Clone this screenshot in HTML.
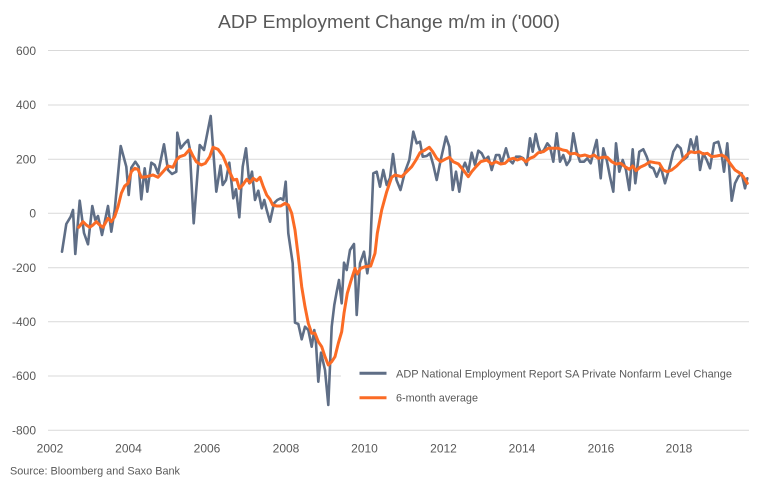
<!DOCTYPE html>
<html><head><meta charset="utf-8"><style>
html,body{margin:0;padding:0;background:#fff;}
svg{display:block;}
text{font-family:"Liberation Sans",sans-serif;fill:#595959;}
</style></head><body>
<svg width="769" height="487" viewBox="0 0 769 487" xmlns="http://www.w3.org/2000/svg">
<rect width="769" height="487" fill="#fff"/>
<text x="389" y="28" font-size="18" text-anchor="middle" textLength="342" lengthAdjust="spacingAndGlyphs">ADP Employment Change m/m in ('000)</text>
<g stroke="#d9d9d9" stroke-width="1">
<line x1="48" y1="50.5" x2="749" y2="50.5"/>
<line x1="48" y1="105" x2="749" y2="105"/>
<line x1="48" y1="159.3" x2="749" y2="159.3"/>
<line x1="48" y1="213.3" x2="749" y2="213.3"/>
<line x1="48" y1="267.7" x2="749" y2="267.7"/>
<line x1="48" y1="321.7" x2="749" y2="321.7"/>
<line x1="48" y1="376" x2="749" y2="376"/>
<line x1="48" y1="430.3" x2="749" y2="430.3"/>
</g>
<rect x="341" y="360" width="410" height="50" fill="#fff"/>
<g font-size="12" text-anchor="end">
<text x="36" y="55">600</text>
<text x="36" y="109">400</text>
<text x="36" y="163.5">200</text>
<text x="36" y="217.5">0</text>
<text x="36" y="272">-200</text>
<text x="36" y="326">-400</text>
<text x="36" y="380">-600</text>
<text x="36" y="434.5">-800</text>
</g>
<g font-size="12" text-anchor="middle">
<text x="50" y="452.5">2002</text>
<text x="128.5" y="452.5">2004</text>
<text x="207" y="452.5">2006</text>
<text x="286" y="452.5">2008</text>
<text x="364.5" y="452.5">2010</text>
<text x="443.5" y="452.5">2012</text>
<text x="522" y="452.5">2014</text>
<text x="601" y="452.5">2016</text>
<text x="679" y="452.5">2018</text>
</g>
<text x="10" y="474.5" font-size="11" textLength="170" lengthAdjust="spacingAndGlyphs">Source: Bloomberg and Saxo Bank</text>
<polyline fill="none" stroke="#5f6e86" stroke-width="2.6" stroke-linejoin="round" stroke-linecap="round" points="62,251.7 66.3,224 70.7,216.7 73,210 75.3,254 79.7,200.7 84,233 88,244.3 92.3,206 95.3,220 98,216 102,235 108,206 111.3,231.7 114.7,210 120.7,146 126.3,166.7 128.7,195 131.3,167.7 135.3,161.7 138.7,166.7 141.3,199.3 144.7,168.3 147.3,191.7 151.3,162.7 154.7,165 158,173.3 164,144.3 168,170 172,174 176.3,171.7 177.3,132.7 180.7,148.3 184.7,143.3 188,140 189.7,148.3 193.7,223.3 199.7,145 204,150 210.7,116 216.3,191.7 220.5,165.5 222.7,185 226,180 229.3,162.7 233.3,198.3 236,189.3 239.3,217.3 242.7,166.7 246,148.3 249.3,183.3 252,171.7 255,200 258.3,190.7 261.7,208.3 264.3,200 266.7,210 270,221.7 274,203.3 277.3,200 280.7,198.3 283.3,200 285.7,181.7 288.3,233.3 292.7,263.3 295,322.7 298.3,324 301.7,339.3 305,326.7 308.3,330 311.7,346.7 314.3,330 316,343.3 318.3,381.7 321,352.7 325,370 328.3,405 331.7,326.7 334.3,305 336.7,291.7 339,280 341.7,303.3 344,262.7 346.7,270 350,250 354,244 356.7,315 360,263.3 364,251.7 367.3,273.3 370,255 373.3,173.3 376.7,171.7 380,186.7 383.3,170 386.7,185 390,178 393,154 396.5,180 400.5,190 405,171.7 409.3,160 413.3,131.7 416.7,143.3 420,141.7 422.7,156.7 426.7,156 430,153.3 433.3,165 436.7,180 440.7,160 446,136.7 449.3,146.7 452.7,190 456,171.7 459.3,191.7 462.7,168.3 465,162.7 468.3,171.7 471.7,152.7 475,165 478.3,150.7 481.7,153.3 485,160 488.3,156.7 491.7,170 496,155 499.3,155 501.7,163.3 506,148.3 509.3,160 512.7,163.3 516,156.7 520,156.7 523.3,158.3 526.7,165 530,138.3 532.7,151.7 535.7,134 538.3,146 540.7,152.7 544,150 547.3,143.3 550,146.7 553.3,161.7 556.7,133.3 560,161.7 563.3,155 566.7,165 570,160 573.3,133.3 576.7,151.7 580,161.7 584,161.7 587.3,158.3 590.7,163.3 594,150 596.7,140 600.7,178.3 603.3,148.3 606.7,160 610,176.7 613.3,191.7 616,143.3 619.3,171.7 622.7,160 626,170 629.3,190 632.7,149.3 635.3,183.3 639.3,151.7 643.3,149.3 646.7,156.7 650,166.7 653.3,168.3 656.7,176.7 660.7,166.7 665,183.3 669.3,168.3 673.3,151.7 677.3,145 680.7,148.3 683.3,160 687.3,156.7 690.7,139.3 694,150 696.7,136.7 700,170 703.3,153.3 706.7,160 710,168.3 714,143.3 718.3,141.7 721.7,155 724,171.7 727.3,143.3 731.7,200.7 735,183.3 738.3,176.7 741.7,173.3 745,188.3 747.3,178.3"/>
<polyline fill="none" stroke="#fb6b25" stroke-width="3" stroke-linejoin="round" stroke-linecap="round" points="78.7,227.3 83,221.7 86.3,225 89.7,227.3 93,225 96.3,221.7 99.7,225 103,227.3 108,218.3 111.3,221.7 114.7,216.7 118,206.7 121.3,193.3 124.7,186 128,183.3 131.3,171.7 134.7,168.3 138,169.3 141.3,177.3 146.3,176.7 153,175 158,177.3 163,171.7 168,166 173,167.3 176.3,160 179.7,156.7 184.7,155 189.7,149.3 193,156 196.3,161.7 201.3,165 205.3,163.3 209.7,156.7 213,147.3 218,149.3 223,156 228,168 233.3,180 236.7,179.3 239.3,188.3 242.7,185 246.7,179.3 250,182.7 253.3,178.3 256.7,180.7 260,177.3 263.3,186.7 266.7,195 270,199.3 272.7,205 276.7,206 280.7,206 285,203.3 288.3,205 291.7,213.3 295,230 298.3,256.7 301.7,286.7 305,306.7 308.3,323.3 311.7,333.3 315,333.3 318.3,341.7 321.7,346.7 325,356.7 328.3,365 331.7,361.7 335,356.7 338.3,343.3 341.7,331.7 344,313.3 347.3,293.3 350.7,281.7 355,268.3 357.3,274 360.7,268.3 365,266.7 370.7,266 375,253.3 377.3,233.3 381.7,210 386.7,191.7 391.7,177.3 395,175 401.7,176.7 406.7,171.7 411.7,166.7 416,160 420,152.7 425,150 429.3,147.3 432.7,151.7 436.7,158.3 440.7,161.7 445,159.3 449.3,157.3 453.3,161.7 458.3,164 463.3,170 468.3,176.7 471.7,171.7 476,166.7 480.7,161.7 486.7,160 491.7,164 496,161.7 500.7,164 505,163.3 509.3,159.3 513.3,158.3 517.3,160 521.7,158.3 526,161.7 530,158.3 534,156.7 538.3,152.7 543.3,151.7 548.3,148.3 553.3,148.3 558.3,148.3 562.7,150 566.7,150.7 570,154 575,153.3 580,156 585,155 590,156.7 594,155 598.3,158.3 602.7,157.3 607.3,157.3 611.7,161.7 616,164 620.7,163.3 625,166.7 629.3,169.3 632.7,166 636,170.7 640,167.3 645,165 650,161.7 655,162.7 659.3,163.3 663.3,170 667.3,171.7 671.7,170 676.7,166 681.7,160.7 686.7,155 690.7,151.7 695,152.7 699.3,151.7 703.3,154 707.3,153.3 711.7,156.7 716.7,156 721.7,155 726,157.3 730,163.3 735,170 739.3,172.7 743.3,176.7 747.3,183.3"/>
<line x1="359.5" y1="373.3" x2="386.5" y2="373.3" stroke="#5f6e86" stroke-width="3"/>
<line x1="359.5" y1="397.7" x2="386.5" y2="397.7" stroke="#fb6b25" stroke-width="3"/>
<text x="396" y="377.3" font-size="11" textLength="336" lengthAdjust="spacingAndGlyphs">ADP National Employment Report SA Private Nonfarm Level Change</text>
<text x="396" y="401.7" font-size="11" textLength="82" lengthAdjust="spacingAndGlyphs">6-month average</text>
</svg>
</body></html>
